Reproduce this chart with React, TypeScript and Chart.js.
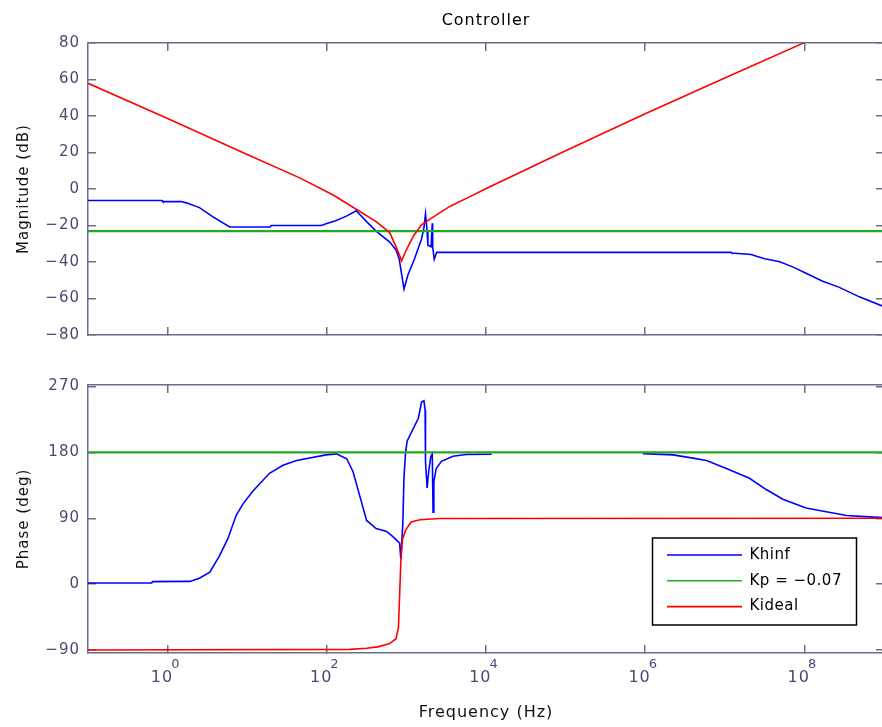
import { useEffect, useRef } from "react";
import { Chart, registerables } from "chart.js";

Chart.register(...registerables);

// Frequencies are stored as decades (log10 of Hz).
const khinfMagDecades = [-1, -0.07, -0.06, 0.17, 0.235, 0.4, 0.57, 0.78, 1.29, 1.3, 1.93, 2.01, 2.11, 2.24, 2.37, 2.5, 2.62, 2.79, 2.87, 2.91, 2.97, 3.02, 3.1, 3.19, 3.22, 3.24, 3.26, 3.27, 3.31, 3.325, 3.33, 3.35, 3.38, 7.08, 7.09, 7.33, 7.5, 7.69, 7.86, 8.02, 8.23, 8.44, 8.69, 9];
const khinfMagDb = [-6.3, -6.3, -6.9, -6.9, -7.6, -10.2, -15.3, -20.8, -20.8, -20, -20, -18.8, -17.4, -15, -11.9, -17.9, -23.1, -29.1, -33.4, -38.5, -54.8, -47, -38.5, -27.4, -21.3, -13.6, -23, -30.8, -31.6, -18.8, -31.6, -38.5, -34.7, -34.7, -35.1, -35.9, -38.2, -39.9, -42.8, -46.2, -50.5, -53.9, -59.1, -64.5];

const kidealMagDecades = [-1, 0, 1, 1.66, 2.08, 2.37, 2.62, 2.79, 2.87, 2.94, 3.0, 3.09, 3.19, 3.34, 3.55, 3.76, 4.01, 5, 6, 7, 8, 9];
const kidealMagDb = [57.9, 38.6, 18.9, 6.1, -3.3, -11.1, -17.9, -23.9, -31.6, -39.4, -33.3, -25.6, -19.6, -15.3, -9.4, -5, 0.4, 21, 41.2, 60.8, 80.2, 99.5];

const kpDecades = [-1, 9];
const kpMagDb = [-23.1, -23.1];
const kpPhaseDeg = [180, 180];

// The Khinf phase sits under the 180° line between 1e4 and 1e6 Hz (null = no stroke there).
const khinfPhaseDecades = [-1, -0.2, -0.19, 0.28, 0.4, 0.53, 0.65, 0.76, 0.86, 0.95, 1.07, 1.28, 1.45, 1.62, 1.99, 2.12, 2.25, 2.33, 2.42, 2.5, 2.62, 2.75, 2.83, 2.915, 2.93, 2.955, 2.97, 2.99, 3.01, 3.08, 3.15, 3.19, 3.22, 3.235, 3.24, 3.26, 3.28, 3.305, 3.325, 3.335, 3.345, 3.375, 3.44, 3.585, 3.75, 4.07, 5.0, 5.97, 6.35, 6.6, 6.77, 7.02, 7.31, 7.52, 7.73, 8.02, 8.24, 8.53, 8.87, 9];
const khinfPhaseDeg = [1.5, 1.5, 3.5, 3.8, 8, 16.3, 38.4, 62.8, 93.7, 110, 126.9, 151.4, 162.4, 169, 176.6, 178, 171.3, 153.5, 118.2, 87, 76, 72, 65, 56, 34, 82.7, 146.9, 180, 195.6, 211, 226.6, 248.8, 250.5, 237.7, 166.8, 131.4, 153.5, 173.4, 178, 98.2, 140, 158, 167.7, 174.8, 177, 177.5, null, 178.3, 176.6, 172.1, 169, 158, 144.7, 129.2, 115.9, 104, 99.6, 93.7, 91.6, 91];

const kidealPhaseDecades = [-1, 2.29, 2.5, 2.64, 2.79, 2.87, 2.9, 2.915, 2.93, 2.95, 2.99, 3.06, 3.17, 3.42, 9];
const kidealPhaseDeg = [-90, -89, -87.5, -85.6, -81.2, -74.5, -59, -14.7, 29.5, 60.5, 73.8, 85, 88, 89.7, 90];

const seriesNames = ["Khinf", "Kp = \u22120.07", "Kideal"];
const magTickValues = [-80, -60, -40, -20, 0, 20, 40, 60, 80];
const phaseTickValues = [-90, 0, 90, 180, 270];
const freqTickDecades = [0, 2, 4, 6, 8];

const FONT_FAMILY = '"DejaVu Sans", "Liberation Sans", sans-serif';
const AXIS_COLOR = "#6b6b8e";
const TICK_TEXT_COLOR = "#4a4a70";
const LABEL_COLOR = "#111111";
const SERIES_COLORS = ["#0000ff", "#22aa22", "#ff0000"];
const SERIES_WIDTHS = [1.6, 2.2, 1.6];

const toPoints = (decades: number[], values: (number | null)[]) =>
  decades.map((d, i) => ({ x: Math.pow(10, d), y: values[i] }));

const minusLabel = (v: number) => (v < 0 ? "\u2212" + Math.abs(v) : String(v));

function freqAxis(position: "top" | "bottom", height: number, title?: string) {
  return {
    type: "logarithmic",
    axis: "x",
    position,
    min: 0.1,
    max: 1e9,
    afterBuildTicks: (s: any) => {
      s.ticks = freqTickDecades.map((d) => ({ value: Math.pow(10, d) }));
    },
    afterFit: (s: any) => {
      s.height = height;
    },
    grid: { drawOnChartArea: false, drawTicks: true, tickLength: -8, color: AXIS_COLOR, lineWidth: 1.5 },
    border: { display: true, color: AXIS_COLOR, width: 1.5 },
    ticks: { display: false },
    title: title
      ? {
          display: true,
          text: title,
          color: LABEL_COLOR,
          font: { family: FONT_FAMILY, size: 16 },
          padding: { top: 0, bottom: 4.5 },
        }
      : { display: false },
  };
}

function valueAxis(
  position: "left" | "right",
  width: number,
  min: number,
  max: number,
  tickValues: number[],
  title?: string
) {
  const showLabels = position === "left";
  return {
    type: "linear",
    axis: "y",
    position,
    min,
    max,
    afterBuildTicks: (s: any) => {
      s.ticks = tickValues.map((value) => ({ value }));
    },
    afterFit: (s: any) => {
      s.width = width;
    },
    grid: { drawOnChartArea: false, drawTicks: true, tickLength: -8, color: AXIS_COLOR, lineWidth: 1.5 },
    border: { display: true, color: AXIS_COLOR, width: 1.5 },
    ticks: {
      display: showLabels,
      padding: 16,
      color: TICK_TEXT_COLOR,
      font: { family: FONT_FAMILY, size: 15 },
      callback: (v: any) => minusLabel(Number(v)),
    },
    title: title
      ? {
          display: true,
          text: title,
          color: LABEL_COLOR,
          font: { family: FONT_FAMILY, size: 15 },
          padding: { top: 15, bottom: 0 },
        }
      : { display: false },
  };
}

function series(index: number, order: number, data: { x: number; y: number | null }[]) {
  return {
    label: seriesNames[index],
    data,
    borderColor: SERIES_COLORS[index],
    backgroundColor: SERIES_COLORS[index],
    borderWidth: SERIES_WIDTHS[index],
    pointRadius: 0,
    fill: false,
    tension: 0,
    spanGaps: false,
    order,
    xAxisID: "x",
    yAxisID: "y",
  };
}

// Wider glyph spacing for all canvas text.
const textSpacing = {
  id: "textSpacing",
  beforeDraw(chart: any) {
    chart.ctx.letterSpacing = "1px";
  },
};

// Decade labels with raised exponents under the frequency axis.
const powerTickLabels = {
  id: "powerTickLabels",
  afterDraw(chart: any) {
    const scale = chart.scales.x;
    const ctx = chart.ctx;
    const baseline = chart.chartArea.bottom + 29;
    ctx.save();
    ctx.fillStyle = TICK_TEXT_COLOR;
    ctx.textAlign = "left";
    ctx.textBaseline = "alphabetic";
    scale.ticks.forEach((t: any) => {
      const exp = String(Math.round(Math.log10(t.value)));
      ctx.font = `16px ${FONT_FAMILY}`;
      const wBase = ctx.measureText("10").width;
      ctx.font = `13px ${FONT_FAMILY}`;
      const wExp = ctx.measureText(exp).width;
      const x0 = scale.getPixelForValue(t.value) - (wBase + wExp - 2) / 2 - 2;
      ctx.font = `16px ${FONT_FAMILY}`;
      ctx.fillText("10", x0, baseline);
      ctx.font = `13px ${FONT_FAMILY}`;
      ctx.fillText(exp, x0 + wBase - 2, baseline - 14);
    });
    ctx.restore();
  },
};

// Framed legend in the lower right of the phase axes.
const boxedLegend = {
  id: "boxedLegend",
  afterDraw(chart: any) {
    const { ctx, chartArea: ca } = chart;
    const left = ca.right - 231.5;
    const right = ca.right - 27.5;
    const top = ca.bottom - 115;
    const bottom = ca.bottom - 28;
    ctx.save();
    ctx.fillStyle = "#ffffff";
    ctx.fillRect(left, top, right - left, bottom - top);
    ctx.strokeStyle = "#000000";
    ctx.lineWidth = 1.5;
    ctx.strokeRect(left, top, right - left, bottom - top);
    ctx.letterSpacing = "0.5px";
    chart.data.datasets.forEach((ds: any, i: number) => {
      const y = top + 17 + i * 25.8;
      ctx.strokeStyle = ds.borderColor;
      ctx.lineWidth = 1.6;
      ctx.beginPath();
      ctx.moveTo(left + 14.5, y);
      ctx.lineTo(left + 89.5, y);
      ctx.stroke();
      ctx.fillStyle = "#000000";
      ctx.font = `15px ${FONT_FAMILY}`;
      ctx.textAlign = "left";
      ctx.textBaseline = "middle";
      ctx.fillText(ds.label, left + 97, y);
    });
    ctx.restore();
  },
};

const baseOptions = {
  responsive: false,
  animation: false,
  devicePixelRatio: 1,
  events: [],
  layout: { padding: 0 },
};

export default function App() {
  const magRef = useRef<HTMLCanvasElement>(null);
  const phaseRef = useRef<HTMLCanvasElement>(null);

  useEffect(() => {
    const magChart = new Chart(magRef.current as HTMLCanvasElement, {
      type: "line",
      data: {
        datasets: [
          series(0, 3, toPoints(khinfMagDecades, khinfMagDb)),
          series(1, 2, toPoints(kpDecades, kpMagDb)),
          series(2, 1, toPoints(kidealMagDecades, kidealMagDb)),
        ],
      },
      options: {
        ...baseOptions,
        plugins: {
          legend: { display: false },
          tooltip: { enabled: false },
          title: {
            display: true,
            text: "Controller",
            fullSize: false,
            color: "#000000",
            font: { family: FONT_FAMILY, size: 16, weight: "normal" },
            padding: { top: 11, bottom: 0 },
          },
        },
        scales: {
          x: freqAxis("bottom", 6),
          x2: freqAxis("top", 12.8),
          y: valueAxis("left", 88, -80, 80, magTickValues, "Magnitude (dB)"),
          y2: valueAxis("right", 6, -80, 80, magTickValues),
        },
      } as any,
      plugins: [textSpacing],
    } as any);

    const phaseChart = new Chart(phaseRef.current as HTMLCanvasElement, {
      type: "line",
      data: {
        datasets: [
          series(0, 3, toPoints(khinfPhaseDecades, khinfPhaseDeg)),
          series(1, 2, toPoints(kpDecades, kpPhaseDeg)),
          series(2, 1, toPoints(kidealPhaseDecades, kidealPhaseDeg)),
        ],
      },
      options: {
        ...baseOptions,
        plugins: {
          legend: { display: false },
          tooltip: { enabled: false },
          title: { display: false },
        },
        scales: {
          x: freqAxis("bottom", 74, "Frequency (Hz)"),
          x2: freqAxis("top", 17.5),
          y: valueAxis("left", 88, -94, 272, phaseTickValues, "Phase (deg)"),
          y2: valueAxis("right", 6, -94, 272, phaseTickValues),
        },
      } as any,
      plugins: [textSpacing, powerTickLabels, boxedLegend],
    } as any);

    return () => {
      magChart.destroy();
      phaseChart.destroy();
    };
  }, []);

  return (
    <div
      style={{
        position: "absolute",
        left: 0,
        top: 0,
        width: 882,
        height: 727,
        overflow: "hidden",
        background: "#ffffff",
      }}
    >
      <canvas ref={magRef} width={890} height={360} style={{ position: "absolute", left: 0, top: 0 }} />
      <canvas ref={phaseRef} width={890} height={367} style={{ position: "absolute", left: 0, top: 360 }} />
    </div>
  );
}
